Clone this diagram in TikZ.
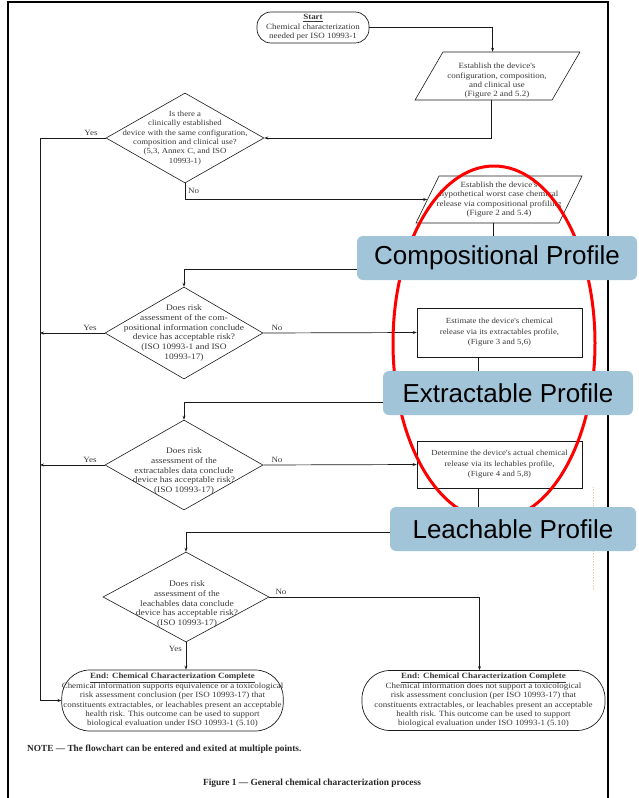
\documentclass[tikz,border=0pt]{standalone}
\usepackage{fontspec}
\setmainfont{Liberation Serif}
\newfontfamily\flowfont[FakeStretch=1.12]{Liberation Serif}
\newfontfamily\calloutfont{Liberation Sans}
\usetikzlibrary{arrows.meta,positioning,shapes.geometric,calc}
\definecolor{isoink}{HTML}{383838}
\definecolor{isoline}{HTML}{1A1A1A}
\definecolor{hlred}{HTML}{FF0000}
\definecolor{hlblue}{HTML}{A2C4D9}
\definecolor{scanmark}{HTML}{E8D2B4}
\tikzset{
  >={Stealth[length=4pt,width=3pt]},
  flowtxt/.style={font=\flowfont\fontsize{8}{9.3}\selectfont,text=isoink,
                  align=center,inner sep=0pt},
  terminal/.style={draw=isoline,line width=0.7pt,rectangle,flowtxt,
                   font=\flowfont\fontsize{8}{9.4}\selectfont},
  io/.style={draw=isoline,line width=0.6pt,rectangle,inner sep=0pt},
  procbox/.style={draw=isoline,line width=0.6pt,rectangle,flowtxt,
                  font=\flowfont\fontsize{7.8}{10.4}\selectfont},
  decision/.style={draw=isoline,line width=0.6pt,diamond,inner sep=0pt},
  dectext/.style={flowtxt,font=\flowfont\fontsize{8.4}{9.9}\selectfont},
  yn/.style={flowtxt,font=\flowfont\fontsize{8}{8}\selectfont},
  flow/.style={->,line width=0.7pt,draw=isoline},
  callout/.style={fill=hlblue,rounded corners=6pt,inner sep=0pt,
                  font=\calloutfont\fontsize{26}{28}\selectfont,text=black},
  notetxt/.style={font=\bfseries\fontsize{9.3}{11}\selectfont,text=black!85,inner sep=0pt},
  frame/.style={draw=black,line width=1.3pt},
}
\begin{document}
\begin{tikzpicture}[x=1pt,y=-1pt]
  \useasboundingbox (0,0) rectangle (638,798);
  % page frame
  \draw[frame] (8,798) -- (8,2) -- (608,2) -- (608,798);

  \node[terminal,rounded corners=14pt,minimum width=112,minimum height=31] (start) at (313,27.5)
    {\underline{\textbf{Start}}\\Chemical characterization\\needed per ISO 10993-1};

  \node[io,minimum width=137,minimum height=48,xslant=0.58] (p1) at (497.5,76) {};
  \node[flowtxt] (p1txt) at (497,81)
    {Establish the device's\\configuration, composition,\\and clinical use\\(Figure 2 and 5.2)};

  \node[decision,minimum width=158,minimum height=90] (d1) at (185,138) {};
  \node[dectext,font=\flowfont\fontsize{7.8}{9.3}\selectfont] (d1txt) at (185,138)
    {Is there a\\clinically established\\device with the same configuration,\\composition and clinical use?\\(5,3, Annex C, and ISO\\10993-1)};

  \node[io,minimum width=143,minimum height=47,xslant=0.49] (p2) at (499,199.5) {};
  \node[flowtxt,font=\flowfont\fontsize{8}{9.6}\selectfont] (p2txt) at (499,199.5)
    {Establish the device's\\hypothetical worst case chemical\\release via compositional profiling\\(Figure 2 and 5.4)};

  \node[decision,minimum width=158,minimum height=92] (d2) at (184,333) {};
  \node[dectext] (d2txt) at (184,333)
    {Does risk\\assessment of the com-\\positional information conclude\\device has acceptable risk?\\(ISO 10993-1 and ISO\\10993-17)};

  \node[procbox,minimum width=165,minimum height=49] (r1) at (499.5,332.5)
    {Estimate the device's chemical\\release via its extractables profile,\\(Figure 3 and 5,6)};

  \node[decision,minimum width=158,minimum height=90] (d3) at (184,465) {};
  \node[dectext] (d3txt) at (184,471)
    {Does risk\\assessment of the\\extractables data conclude\\device has acceptable risk?\\(ISO 10993-17)};

  \node[procbox,minimum width=165,minimum height=47] (r2) at (499.5,464.5)
    {Determine the device's actual chemical\\release via its lechables profile,\\(Figure 4 and 5,8)};

  \node[decision,minimum width=166,minimum height=90] (d4) at (186,597) {};
  \node[dectext] (d4txt) at (187,604)
    {Does risk\\assessment of the\\leachables data conclude\\device has acceptable risk?\\(ISO 10993-17)};

  \node[terminal,rounded corners=28pt,minimum width=219,minimum height=61] (e1) at (172.5,700.5)
    {\underline{\textbf{End: Chemical Characterization Complete}}\\
     Chemical information supports equivalence or a toxicological\\
     risk assessment conclusion (per ISO 10993-17) that\\
     constituents extractables, or leachables present an acceptable\\
     health risk. This outcome can be used to support\\
     biological evaluation under ISO 10993-1 (5.10)};
  \node[terminal,rounded corners=28pt,minimum width=243,minimum height=60] (e2) at (483.5,700.5)
    {\underline{\textbf{End: Chemical Characterization Complete}}\\
     Chemical information does not support a toxicological\\
     risk assessment conclusion (per ISO 10993-17) that\\
     constituents extractables, or leachables present an acceptable\\
     health risk. This outcome can be used to support\\
     biological evaluation under ISO 10993-1 (5.10)};

  % connectors
  \coordinate (trunk) at (40,0);
  \draw[flow] (start.east) -| ([xshift=-19]p1.north);
  \draw[flow] ([xshift=8]p1.south) |- (d1.east);
  \draw[flow] (d1.west) -- (d1.west -| trunk) |- (e1.west);
  \draw[flow] (d1.south) |- (p2.west);
  \draw[flow] ([xshift=6]p2.south) |- ($(d2.north)+(0,-17)$) -- (d2.north);
  \draw[flow] (d2.west) -- (d2.west -| trunk);
  \draw[flow] (d2.east) -- (r1.west);
  \draw[flow] ([xshift=-21]r1.south) |- ($(d3.north)+(0,-17)$) -- (d3.north);
  \draw[flow] (d3.west) -- (d3.west -| trunk);
  \draw[flow] (d3.east) -- (r2.west);
  \draw[flow] ([xshift=-21]r2.south) |- ($(d4.north)+(0,-19)$) -- (d4.north);
  \draw[flow] (d4.east) -| ([xshift=-4]e2.north);
  \draw[flow] (d4.south) -- (d4.south |- e1.north);

  \node[yn,above left=2pt and 8pt of d1.west] (d1yes) {Yes};
  \node[yn,anchor=west] (d1no) at ($(d1.south)+(3,8)$) {No};
  \node[yn,above left=2pt and 8pt of d2.west] (d2yes) {Yes};
  \node[yn,above right=2pt and 8pt of d2.east] (d2no) {No};
  \node[yn,above left=2pt and 8pt of d3.west] (d3yes) {Yes};
  \node[yn,above right=2pt and 8pt of d3.east] (d3no) {No};
  \node[yn,above right=2pt and 6pt of d4.east] (d4no) {No};
  \node[yn,anchor=east] (d4yes) at ($(d4.south)+(-4,7)$) {Yes};

  \node[notetxt,anchor=west] (note) at (27,749)
    {NOTE --- The flowchart can be entered and exited at multiple points.};
  \node[notetxt,font=\bfseries\fontsize{9.4}{11}\selectfont] (caption) at (312,783)
    {Figure 1 --- General chemical characterization process};

  % highlight overlay
  \draw[draw=scanmark,densely dotted,line width=0.6pt] (593,487) -- (593,590);
  \draw[draw=hlred,line width=3pt] (494,343) ellipse [x radius=101,y radius=177];
  \node[callout,minimum width=280,minimum height=44] (comp) at (497,258) {Compositional Profile};
  \node[callout,minimum width=250,minimum height=44] (extr) at (508,393) {Extractable Profile};
  \node[callout,minimum width=246,minimum height=44] (leach) at (513,529) {Leachable Profile};
\end{tikzpicture}
\end{document}
